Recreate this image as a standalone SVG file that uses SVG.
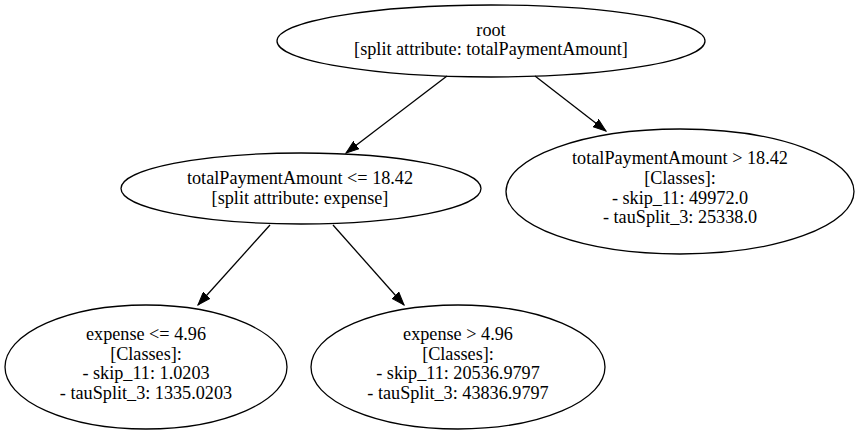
<svg xmlns="http://www.w3.org/2000/svg" width="859" height="435" viewBox="0 0 859 435">
<style>
  .node ellipse { fill: none; stroke: #000; stroke-width: 1.3; }
  .node text { font-family: "Liberation Serif", "Times New Roman", serif; font-size: 18.2px; fill: #000; text-anchor: middle; }
  .edge line { stroke: #000; stroke-width: 1.3; }
</style>
<defs>
  <marker id="arrow" markerUnits="userSpaceOnUse" markerWidth="14" markerHeight="10" refX="13" refY="5" orient="auto">
    <polygon points="0,0.4 13,5 0,9.6" fill="#000" stroke="#000" stroke-width="1"/>
  </marker>
</defs>
<rect width="859" height="435" fill="#fff"/>
<g id="edges" class="edge">
  <line x1="447" y1="76" x2="346" y2="153" marker-end="url(#arrow)"/>
  <line x1="535" y1="76" x2="606" y2="131" marker-end="url(#arrow)"/>
  <line x1="270" y1="225" x2="198" y2="305" marker-end="url(#arrow)"/>
  <line x1="333" y1="225" x2="404" y2="305" marker-end="url(#arrow)"/>
</g>
<g id="root" class="node">
  <ellipse cx="491" cy="41" rx="214" ry="36"/>
  <text x="491" y="35.5">root</text>
  <text x="491" y="55.2">[split attribute: totalPaymentAmount]</text>
</g>
<g id="left" class="node">
  <ellipse cx="301" cy="188.5" rx="180" ry="35.5"/>
  <text x="300" y="184">totalPaymentAmount &lt;= 18.42</text>
  <text x="300" y="203.5">[split attribute: expense]</text>
</g>
<g id="right" class="node">
  <ellipse cx="680" cy="191.5" rx="174" ry="62.5"/>
  <text x="680" y="164.3">totalPaymentAmount &gt; 18.42</text>
  <text x="680" y="184">[Classes]:</text>
  <text x="680" y="203.7">- skip_11: 49972.0</text>
  <text x="680" y="223.3">- tauSplit_3: 25338.0</text>
</g>
<g id="leftleft" class="node">
  <ellipse cx="146" cy="367" rx="141" ry="62"/>
  <text x="146" y="339.8">expense &lt;= 4.96</text>
  <text x="146" y="359.5">[Classes]:</text>
  <text x="146" y="379.2">- skip_11: 1.0203</text>
  <text x="146" y="398.8">- tauSplit_3: 1335.0203</text>
</g>
<g id="leftright" class="node">
  <ellipse cx="458" cy="367" rx="147" ry="62"/>
  <text x="458" y="339.8">expense &gt; 4.96</text>
  <text x="458" y="359.5">[Classes]:</text>
  <text x="458" y="379.2">- skip_11: 20536.9797</text>
  <text x="458" y="398.8">- tauSplit_3: 43836.9797</text>
</g>
</svg>
